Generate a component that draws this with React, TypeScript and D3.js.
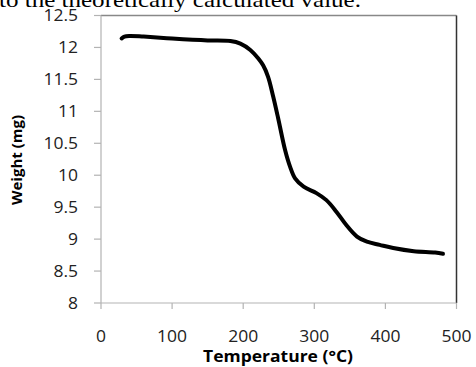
import React, { useMemo } from 'react';
import * as d3 from 'd3';

// TGA curve
const temperature = [29, 33, 40, 60, 100, 150, 182, 196, 210, 221, 228, 235, 242, 249, 259, 266, 273, 285, 303, 317, 331, 345, 360, 374, 392, 411, 440, 470, 481];
const weight = [12.14, 12.17, 12.18, 12.17, 12.14, 12.11, 12.1, 12.06, 11.96, 11.83, 11.72, 11.54, 11.24, 10.9, 10.39, 10.13, 9.95, 9.82, 9.72, 9.61, 9.43, 9.22, 9.04, 8.96, 8.91, 8.86, 8.81, 8.79, 8.77];

const xTicks = [0, 100, 200, 300, 400, 500];
const yTicks = [8, 8.5, 9, 9.5, 10, 10.5, 11, 11.5, 12, 12.5];

const W = 476;
const H = 367;
const plot = { left: 101, right: 456.5, top: 15.5, bottom: 303 };
const font = '"Open Sans", sans-serif';
const stretch = 1.13; // the source image is a bit wider than tall

const App: React.FC = () => {
  const x = d3.scaleLinear().domain([0, 500]).range([plot.left, plot.right]);
  const y = d3.scaleLinear().domain([8, 12.5]).range([plot.bottom, plot.top]);

  const path = useMemo(() => {
    const line = d3
      .line<number>()
      .x((_, i) => x(temperature[i]))
      .y(d => y(d))
      .curve(d3.curveCatmullRom.alpha(0.5));
    return line(weight) || '';
  }, []);

  return (
    <div style={{ position: 'absolute', left: 0, top: 0 }}>
      <svg width={W} height={H} style={{ display: 'block', background: '#fff' }}>
        {/* leftover caption line from the page above */}
        <text x={-1} y={7} fontFamily='"Liberation Serif", serif' fontSize={22} textLength={362} lengthAdjust="spacingAndGlyphs" fill="#000">
          to the theoretically calculated value.
        </text>

        {/* frame: top grey, right dark */}
        <line x1={plot.left} x2={plot.right} y1={plot.top} y2={plot.top} stroke="#888" strokeWidth={1.5} />
        <line x1={plot.right} x2={plot.right} y1={plot.top} y2={plot.bottom} stroke="#333" strokeWidth={1.5} />

        {/* axes */}
        <line x1={plot.left} x2={plot.left} y1={plot.top} y2={plot.bottom} stroke="#b3b3b3" strokeWidth={1.2} />
        <line x1={plot.left} x2={plot.right} y1={plot.bottom} y2={plot.bottom} stroke="#b3b3b3" strokeWidth={1.2} />

        {yTicks.map(t => (
          <g key={t}>
            <line x1={plot.left - 7} x2={plot.left} y1={y(t)} y2={y(t)} stroke="#b3b3b3" strokeWidth={1.2} />
            <text transform={`translate(78,${y(t)}) scale(${stretch},1)`} dy="0.36em" textAnchor="end" fontFamily={font} fontSize={15.5} fill="#222">
              {t}
            </text>
          </g>
        ))}

        {xTicks.map(t => (
          <g key={t}>
            <line x1={x(t)} x2={x(t)} y1={plot.bottom} y2={plot.bottom + 6} stroke="#b3b3b3" strokeWidth={1.2} />
            <text transform={`translate(${x(t)},342) scale(${stretch},1)`} textAnchor="middle" fontFamily={font} fontSize={15.5} fill="#222">
              {t}
            </text>
          </g>
        ))}

        <text transform={`translate(278,361.5) scale(${stretch},1)`} textAnchor="middle" fontFamily={font} fontWeight="bold" fontSize={15.5} fill="#000">
          Temperature (°C)
        </text>
        <text transform="translate(22,160) rotate(-90)" textAnchor="middle" fontFamily={font} fontWeight="bold" fontSize={15} fill="#000">
          Weight (mg)
        </text>

        <path d={path} fill="none" stroke="#000" strokeWidth={4} strokeLinecap="round" strokeLinejoin="round" />
      </svg>
    </div>
  );
};

export default App;
